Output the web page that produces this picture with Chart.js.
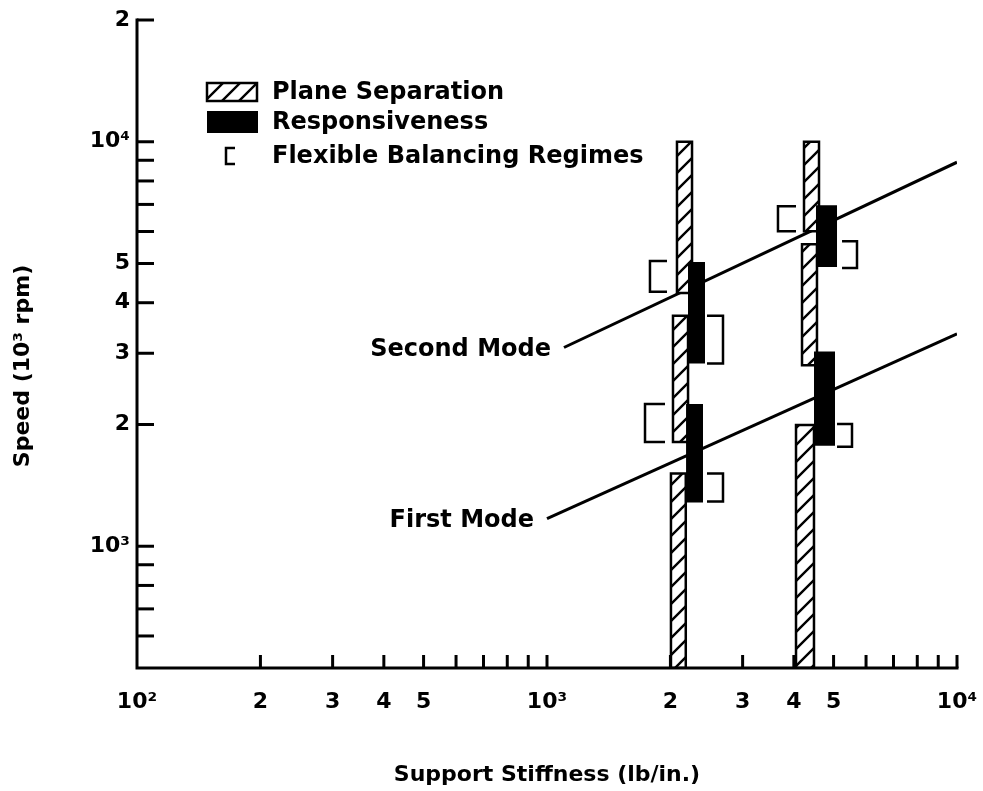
<!DOCTYPE html>
<html>
<head>
<meta charset="utf-8">
<title>Flexible Balancing Regimes</title>
<script src="https://cdn.jsdelivr.net/npm/chart.js@4.4.0/dist/chart.umd.min.js"></script>
<style>
  html, body { margin: 0; padding: 0; background: #fff; }
  #wrap { width: 983px; height: 791px; }
</style>
</head>
<body>
<div id="wrap"><canvas id="speedChart" width="983" height="791"></canvas></div>
<script>

/******************************************************************
CHART DATA
******************************************************************/

// support stiffness axis (lb/in.)
var xTickValues = [100, 200, 300, 400, 500, 600, 700, 800, 900, 1000,
                   2000, 3000, 4000, 5000, 6000, 7000, 8000, 9000, 10000];
var xTickLabels = ["10²", "2", "3", "4", "5", "", "", "", "", "10³",
                   "2", "3", "4", "5", "", "", "", "", "10⁴"];

// speed axis (rpm)
var yTickValues = [600, 700, 800, 900, 1000, 2000, 3000, 4000, 5000,
                   6000, 7000, 8000, 9000, 10000, 20000];
var yTickLabels = ["", "", "", "", "10³", "2", "3", "4", "5",
                   "", "", "", "", "10⁴", "2"];

// critical speed lines
var modeNames = ["Second Mode", "First Mode"];
var secondModeStiff = [1100, 10000];
var secondModeSpeed = [3100, 8900];
var firstModeStiff = [1000, 10000];
var firstModeSpeed = [1170, 3350];

// plane separation (hatched)
var planeStiffLo = [2075, 2029, 2006, 4235, 4188, 4049];
var planeStiffHi = [2258, 2208, 2180, 4607, 4555, 4479];
var planeSpeedLo = [4230, 1810, 500, 6010, 2800, 500];
var planeSpeedHi = [10000, 3715, 1512, 10000, 5583, 1994];

// responsiveness (solid)
var respStiffLo = [2220, 2196, 4555, 4505];
var respStiffHi = [2415, 2388, 5069, 5012];
var respSpeedLo = [2848, 1290, 4932, 1781];
var respSpeedHi = [5014, 2233, 6923, 3014];

// flexible balancing regimes ("[" opens right, "]" opens left)
var regimeSide = ["[", "]", "[", "]", "[", "]", "]"];
var regimeStiffLo = [1783, 2456, 1734, 2456, 3659, 5243, 5098];
var regimeStiffHi = [1962, 2687, 1940, 2687, 4049, 5703, 5545];
var regimeSpeedLo = [4256, 2832, 1811, 1290, 6010, 4875, 1761];
var regimeSpeedHi = [5073, 3715, 2246, 1512, 6923, 5679, 2005];

var legendNames = ["Plane Separation", "Responsiveness", "Flexible Balancing Regimes"];

var FONT = '"DejaVu Sans", sans-serif';


/******************************************************************
HELPERS
******************************************************************/

function makeHatch() {
  var s = 17;
  var c = document.createElement("canvas");
  c.width = s;
  c.height = s;
  var g = c.getContext("2d");
  g.fillStyle = "#fff";
  g.fillRect(0, 0, s, s);
  g.strokeStyle = "#000";
  g.lineWidth = 2.4;
  g.beginPath();
  g.moveTo(0, s); g.lineTo(s, 0);
  g.moveTo(-2, 2); g.lineTo(2, -2);
  g.moveTo(s - 2, s + 2); g.lineTo(s + 2, s - 2);
  g.stroke();
  return g.createPattern(c, "repeat");
}

var hatch = makeHatch();

function boxPoints(x0, x1, y0, y1) {
  return [{x: x0, y: y0}, {x: x0, y: y1}, {x: x1, y: y1}, {x: x1, y: y0}, {x: x0, y: y0}];
}

function bracketPoints(side, x0, x1, y0, y1) {
  if (side === "[") {
    return [{x: x1, y: y1}, {x: x0, y: y1}, {x: x0, y: y0}, {x: x1, y: y0}];
  }
  return [{x: x0, y: y1}, {x: x1, y: y1}, {x: x1, y: y0}, {x: x0, y: y0}];
}

function pairPoints(xs, ys) {
  return xs.map(function (x, i) { return {x: x, y: ys[i]}; });
}

var datasets = [];

// mode lines go underneath everything
datasets.push({
  label: modeNames[0], data: pairPoints(secondModeStiff, secondModeSpeed),
  borderColor: "#000", borderWidth: 3, pointRadius: 0, fill: false, order: 5
});
datasets.push({
  label: modeNames[1], data: pairPoints(firstModeStiff, firstModeSpeed),
  borderColor: "#000", borderWidth: 3, pointRadius: 0, fill: false, order: 5
});

planeStiffLo.forEach(function (lo, i) {
  datasets.push({
    label: legendNames[0],
    data: boxPoints(lo, planeStiffHi[i], planeSpeedLo[i], planeSpeedHi[i]),
    borderColor: "#000", borderWidth: 2.5, backgroundColor: hatch,
    borderCapStyle: "square", pointRadius: 0, fill: "shape", order: 4
  });
});

respStiffLo.forEach(function (lo, i) {
  datasets.push({
    label: legendNames[1],
    data: boxPoints(lo, respStiffHi[i], respSpeedLo[i], respSpeedHi[i]),
    borderColor: "#000", borderWidth: 2, backgroundColor: "#000",
    borderCapStyle: "square", pointRadius: 0, fill: "shape", order: 3
  });
});

regimeSide.forEach(function (side, i) {
  datasets.push({
    label: legendNames[2],
    data: bracketPoints(side, regimeStiffLo[i], regimeStiffHi[i], regimeSpeedLo[i], regimeSpeedHi[i]),
    borderColor: "#000", borderWidth: 2.5, pointRadius: 0, fill: false, order: 2
  });
});


/******************************************************************
PLUGINS
******************************************************************/

// axis lines and inward tick marks, the way the paper draws them
var paperAxes = {
  id: "paperAxes",
  afterDatasetsDraw: function (chart) {
    var ctx = chart.ctx;
    var a = chart.chartArea;
    var xs = chart.scales.x;
    var ys = chart.scales.y;
    ctx.save();
    ctx.strokeStyle = "#000";
    ctx.lineWidth = 3;
    ctx.lineCap = "square";
    ctx.beginPath();
    ctx.moveTo(a.left, a.top);
    ctx.lineTo(a.left, a.bottom);
    ctx.lineTo(a.right, a.bottom);
    ctx.stroke();
    ctx.lineCap = "butt";
    yTickValues.forEach(function (v) {
      var py = ys.getPixelForValue(v);
      ctx.beginPath();
      ctx.moveTo(a.left, py);
      ctx.lineTo(a.left + 17, py);
      ctx.stroke();
    });
    xTickValues.forEach(function (v) {
      if (v === xs.min) return;
      var px = xs.getPixelForValue(v);
      ctx.beginPath();
      ctx.moveTo(px, a.bottom);
      ctx.lineTo(px, a.bottom - 13);
      ctx.stroke();
    });
    ctx.restore();
  }
}; // END PAPERAXES

// axis titles, mode labels and the legend box
var paperText = {
  id: "paperText",
  afterDraw: function (chart) {
    var ctx = chart.ctx;
    var a = chart.chartArea;
    ctx.save();
    ctx.fillStyle = "#000";
    ctx.strokeStyle = "#000";

    // x title
    ctx.font = "bold 22px " + FONT;
    ctx.textAlign = "center";
    ctx.textBaseline = "middle";
    ctx.fillText("Support Stiffness (lb/in.)", (a.left + a.right) / 2, a.bottom + 107);

    // y title
    ctx.save();
    ctx.translate(a.left - 114, (a.top + a.bottom) / 2 + 22);
    ctx.rotate(-Math.PI / 2);
    ctx.fillText("Speed (10³ rpm)", 0, 0);
    ctx.restore();

    // mode labels at the start of each line
    ctx.font = "bold 24px " + FONT;
    ctx.textAlign = "right";
    [0, 1].forEach(function (i) {
      var p = chart.getDatasetMeta(i).data[0];
      ctx.fillText(modeNames[i], p.x - 13, p.y + 2);
    });

    // legend
    var lx = a.left + 70;
    var rows = [a.top + 72, a.top + 102, a.top + 136];
    ctx.lineWidth = 2.5;
    ctx.fillStyle = hatch;
    ctx.fillRect(lx, rows[0] - 9, 50, 18);
    ctx.strokeRect(lx, rows[0] - 9, 50, 18);
    ctx.fillStyle = "#000";
    ctx.fillRect(lx, rows[1] - 11, 51, 22);
    ctx.beginPath();
    ctx.moveTo(lx + 28, rows[2] - 8);
    ctx.lineTo(lx + 19, rows[2] - 8);
    ctx.lineTo(lx + 19, rows[2] + 8);
    ctx.lineTo(lx + 28, rows[2] + 8);
    ctx.stroke();
    ctx.font = "bold 24px " + FONT;
    ctx.textAlign = "left";
    legendNames.forEach(function (name, i) {
      ctx.fillText(name, lx + 65, rows[i] + 1);
    });
    ctx.restore();
  }
}; // END PAPERTEXT


/******************************************************************
CHART
******************************************************************/

var tickFont = { family: FONT, size: 22, weight: "bold" };

var chartHandle = new Chart(document.getElementById("speedChart").getContext("2d"), {
  type: "line",
  data: { datasets: datasets },
  options: {
    responsive: false,
    animation: false,
    events: [],
    layout: { padding: { top: 20, right: 26, left: 0, bottom: 0 } },
    plugins: {
      legend: { display: false },
      tooltip: { enabled: false }
    },
    scales: {
      x: {
        type: "logarithmic",
        min: 100,
        max: 10000,
        border: { display: false },
        grid: { display: false, drawTicks: false },
        afterBuildTicks: function (scale) {
          scale.ticks = xTickValues.map(function (v) { return { value: v }; });
        },
        afterFit: function (scale) {
          scale.height = 123;
          // label padding would otherwise squeeze the plot from the right
          scale.paddingLeft = 0;
          scale.paddingRight = 0;
        },
        ticks: {
          autoSkip: false, maxRotation: 0, minRotation: 0, padding: 21,
          color: "#000", font: tickFont,
          callback: function (value, index) { return xTickLabels[index]; }
        }
      },
      y: {
        type: "logarithmic",
        min: 500,
        max: 20000,
        border: { display: false },
        grid: { display: false, drawTicks: false },
        afterBuildTicks: function (scale) {
          scale.ticks = yTickValues.map(function (v) { return { value: v }; });
        },
        afterFit: function (scale) {
          scale.width = 137;
          scale.paddingTop = 0;
          scale.paddingBottom = 0;
        },
        ticks: {
          autoSkip: false, padding: 7,
          color: "#000", font: tickFont,
          callback: function (value, index) { return yTickLabels[index]; }
        }
      }
    }
  },
  plugins: [paperAxes, paperText]
}); // END CHART

</script>
</body>
</html>
